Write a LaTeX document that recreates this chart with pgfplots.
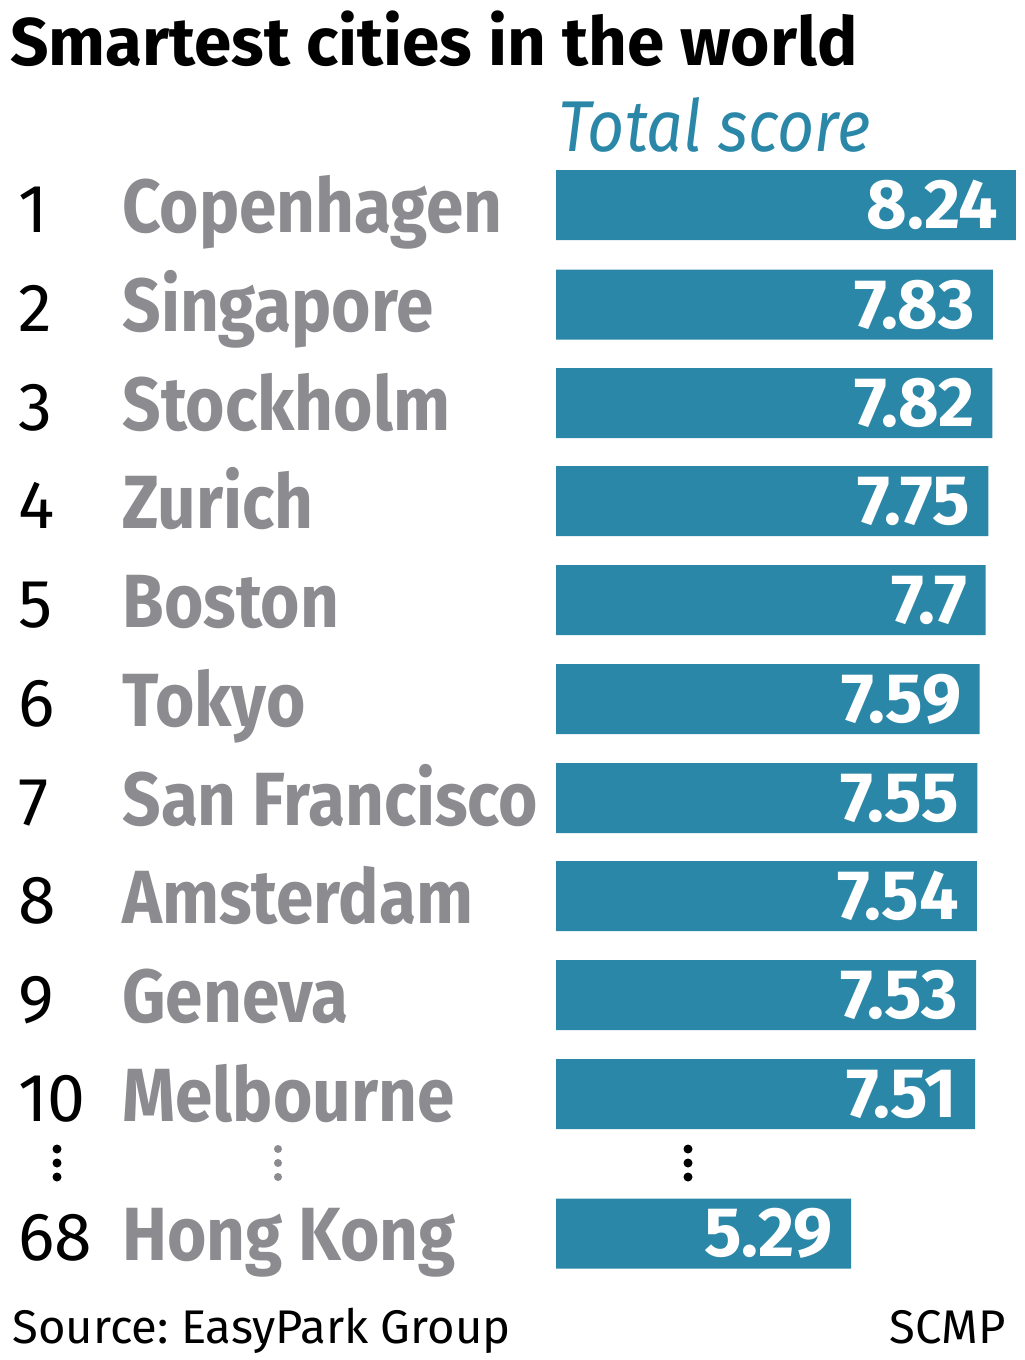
\documentclass[border=0pt]{standalone}
\usepackage{pgfplots}
\pgfplotsset{compat=1.18}
\usepackage{fontspec}
\setmainfont{Fira Sans}
\newfontfamily\condfont{Fira Sans}[FakeStretch=0.895]
\definecolor{barteal}{HTML}{2B87A7}
\definecolor{cityGray}{HTML}{8B8B90}
\frenchspacing
\begin{document}
\begin{tikzpicture}
\begin{axis}[
  at={(0,0)}, anchor=north west,
  scale only axis, width=512pt, height=680pt,
  xmin=-9.9642, xmax=8.3871, ymin=0, ymax=1360, y dir=reverse,
  hide axis, clip=false,
  xbar, bar width=35pt,
  /pgf/number format/assume math mode=true,
  nodes near coords,
  every node near coord/.append style={anchor=east, xshift=-5.5pt, text=white,
    font=\fontsize{35}{35}\selectfont\bfseries},
]
\addplot[fill=barteal, draw=none] coordinates {
  (8.24,205) (7.83,304.5) (7.82,403) (7.75,501) (7.7,600) (7.59,699)
  (7.55,798) (7.54,896) (7.53,995) (7.51,1094) (5.29,1233.5)
};
\end{axis}
\begin{scope}[x=0.5pt, y=-0.5pt]
\path[use as bounding box] (0,0) rectangle (1024,1360);
\node[anchor=base west, inner sep=0pt, font=\fontsize{33.7}{33.7}\selectfont\bfseries] at (10,65) {Smartest cities in the world};
\node[anchor=base west, inner sep=0pt, text=barteal, font=\fontsize{36}{36}\selectfont\condfont\itshape] at (558,151) {Total score};
\foreach \r/\c/\y in {1/Copenhagen/232, 2/Singapore/331, 3/Stockholm/430, 4/Zurich/528, 5/Boston/627, 6/Tokyo/726, 7/San Francisco/825, 8/Amsterdam/923, 9/Geneva/1022, 10/Melbourne/1121, 68/Hong Kong/1260}{
  \node[anchor=base west, inner sep=0pt, font=\fontsize{34}{34}\selectfont] at (18,\y) {\r};
  \node[anchor=base west, inner sep=0pt, text=cityGray, font=\fontsize{37.7}{37.7}\selectfont\condfont\bfseries] at (122,\y) {\c};
}
\foreach \yy in {1149,1163,1177}{
  \fill (57,\yy) circle (4.5);
  \fill[cityGray] (278,\yy) circle (4);
  \fill (688,\yy) circle (4.5);
}
\node[anchor=base west, inner sep=0pt, font=\fontsize{23.6}{23.6}\selectfont] at (12,1343) {Source: EasyPark Group};
\node[anchor=base east, inner sep=0pt, font=\fontsize{23.6}{23.6}\selectfont] at (1006,1343) {SCMP};
\end{scope}
\end{tikzpicture}
\end{document}
